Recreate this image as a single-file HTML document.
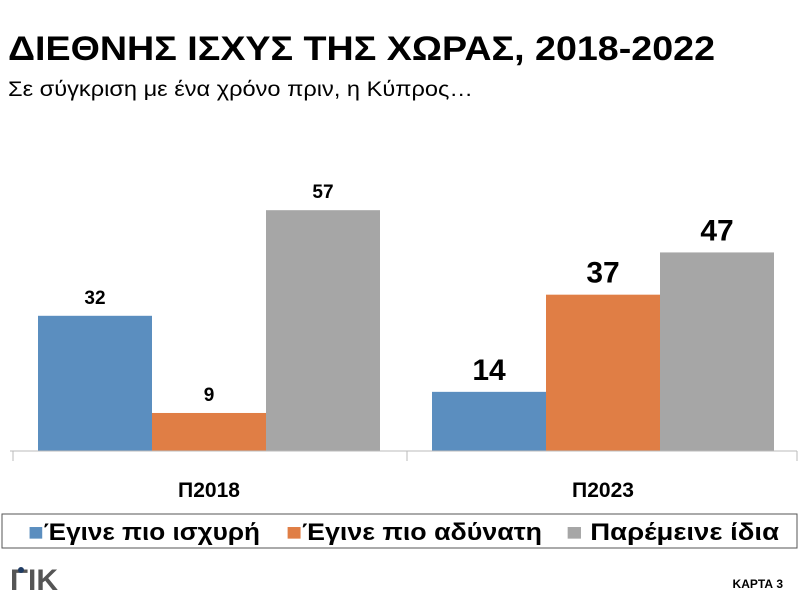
<!DOCTYPE html>
<html><head><meta charset="utf-8"><style>body{margin:0;background:#fff}svg{display:block;font-family:"Liberation Sans",sans-serif}</style></head>
<body>
<svg id="c" width="800" height="600" viewBox="0 0 800 600">
<text x="8" y="60" font-size="34" font-weight="bold" textLength="707" lengthAdjust="spacingAndGlyphs">ΔΙΕΘΝΗΣ ΙΣΧΥΣ ΤΗΣ ΧΩΡΑΣ, 2018-2022</text>
<text x="8" y="96" font-size="21" textLength="465" lengthAdjust="spacingAndGlyphs">Σε σύγκριση με ένα χρόνο πριν, η Κύπρος…</text>
<g id="bars"></g>
<line x1="10" y1="451" x2="797" y2="451" stroke="#bbb"/>
<rect x="2" y="514" width="795" height="34" fill="none" stroke="#555"/>
<text x="28" y="540" font-size="24" font-weight="bold" textLength="232" lengthAdjust="spacingAndGlyphs"><tspan fill="#5b8ebf">■</tspan>Έγινε πιο ισχυρή</text>
<text x="286" y="540" font-size="24" font-weight="bold" textLength="256" lengthAdjust="spacingAndGlyphs"><tspan fill="#e07e45">■</tspan>Έγινε πιο αδύνατη</text>
<text x="566" y="540" font-size="24" font-weight="bold" textLength="213" lengthAdjust="spacingAndGlyphs"><tspan fill="#a6a6a6">■</tspan> Παρέμεινε ίδια</text>
<text x="10" y="590" font-size="30" font-weight="bold" fill="#555">ΓΙΚ</text>
<circle cx="21" cy="570" r="3" fill="#1f3b63"/>
<text x="783" y="588" font-size="12" font-weight="bold" text-anchor="end">ΚΑΡΤΑ 3</text>
</svg>
<script>
const categories=["Π2018","Π2023"];
const seriesNames=["Έγινε πιο ισχυρή","Έγινε πιο αδύνατη","Παρέμεινε ίδια"];
const colors=["#5b8ebf","#e07e45","#a6a6a6"];
const stronger=[32,14];
const weaker=[9,37];
const same=[57,47];
const series=[stronger,weaker,same];
const NS="http://www.w3.org/2000/svg";
const base=451,scale=4.225,groupW=394,left=10,barW=114,groupPad=28;
const y=v=>base-v*scale;
const x=(g,s)=>left+g*groupW+groupPad+s*barW;
const bars=document.getElementById('bars');
function mk(tag,attrs,parent){const e=document.createElementNS(NS,tag);for(const k in attrs)e.setAttribute(k,attrs[k]);parent.appendChild(e);return e;}
categories.forEach((c,g)=>{
  const fs=g===0?19:30;
  series.forEach((arr,s)=>{
    const r=mk('rect',{x:x(g,s),y:y(arr[g]),width:barW,height:arr[g]*scale,fill:colors[s]},bars);
    
    
    const t=mk('text',{x:x(g,s)+barW/2,y:y(arr[g])-(g===0?12:12),'font-size':fs,'font-weight':'bold','text-anchor':'middle'},bars);
    t.textContent=arr[g];
    
    
  });
  const tick=mk('line',{x1:left+g*groupW+3,y1:base,x2:left+g*groupW+3,y2:base+10,stroke:'#bbb'},bars);
  
  
  const lab=mk('text',{x:left+g*groupW+groupW/2+2,y:497,'font-size':21,'font-weight':'bold','text-anchor':'middle'},bars);
  lab.textContent=c;
  
  
});
const tk=mk('line',{x1:797,y1:base,x2:797,y2:base+10,stroke:'#bbb'},bars);


</script>
</body></html>
